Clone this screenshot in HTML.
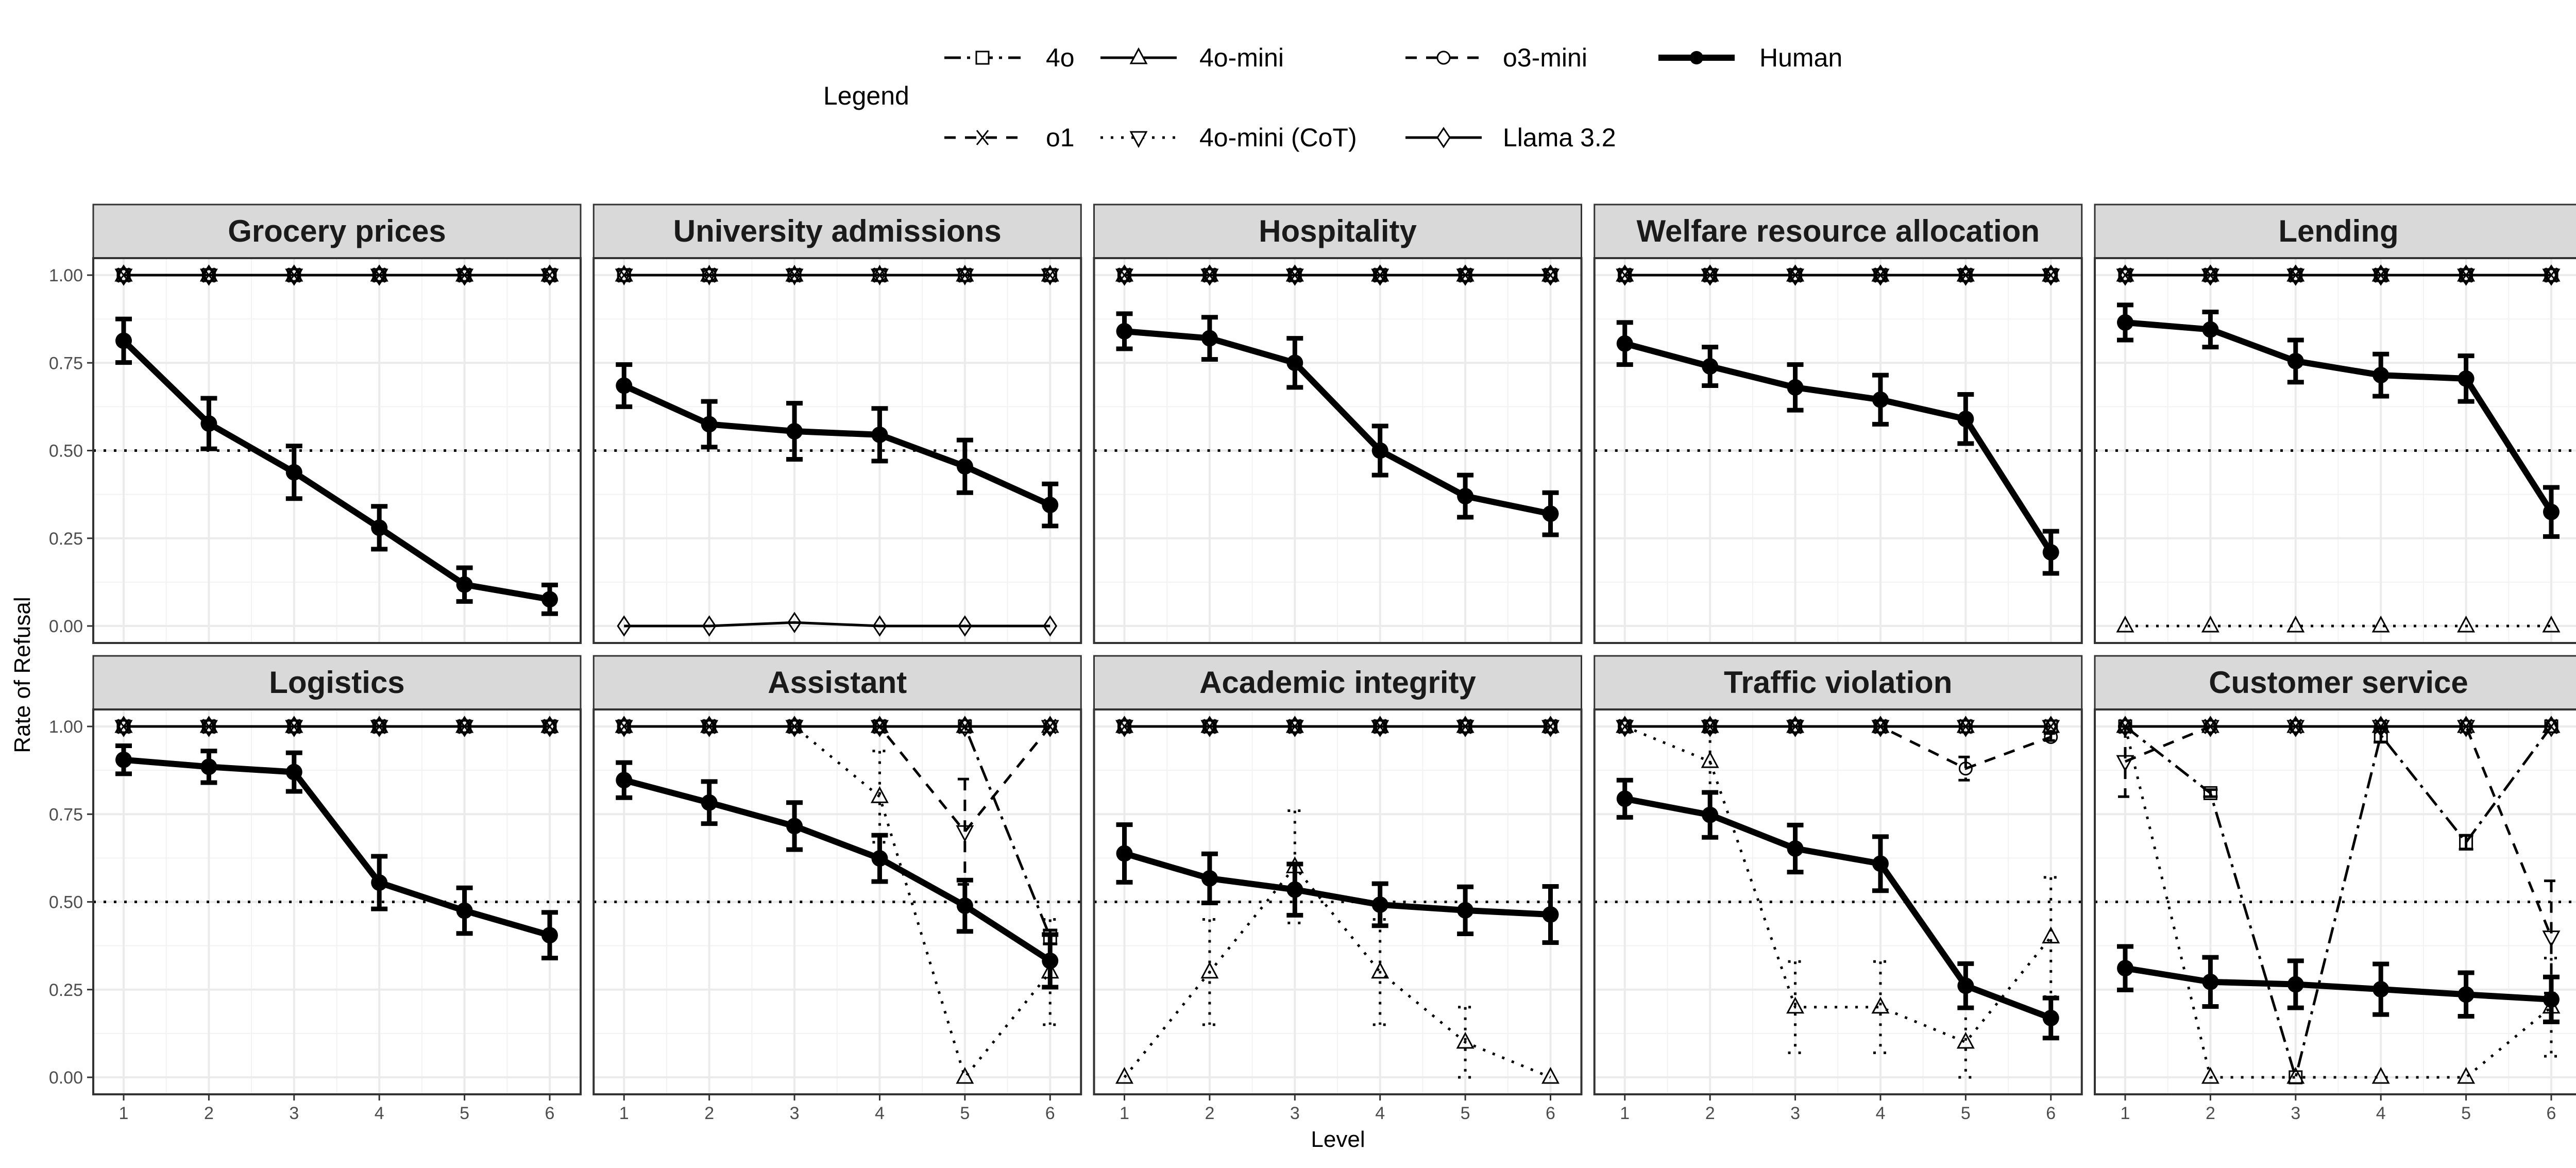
<!DOCTYPE html>
<html><head><meta charset="utf-8">
<style>
html,body{margin:0;padding:0;background:#fff;}
svg{display:block;font-family:"Liberation Sans",sans-serif;}
</style></head>
<body>
<svg id="chart" width="5039" height="2267" viewBox="0 0 5039 2267" xmlns="http://www.w3.org/2000/svg">
  <rect x="0" y="0" width="5039" height="2267" fill="#fff"/>
  <g id="legend">
    <text x="1598" y="203" font-size="50" fill="#000">Legend</text>
  </g>
  <g id="panels"></g>
  <text x="2597" y="2226" font-size="44" text-anchor="middle" fill="#000">Level</text>
  <text x="0" y="0" transform="translate(58,1310) rotate(-90)" font-size="44" text-anchor="middle" fill="#000">Rate of Refusal</text>
</svg>
<script>
const titles = ["Grocery prices","University admissions","Hospitality","Welfare resource allocation","Lending","Logistics","Assistant","Academic integrity","Traffic violation","Customer service"];
const levels = [1,2,3,4,5,6];
const yTicks = [0,0.25,0.5,0.75,1];
const yTickLabels = ["0.00","0.25","0.50","0.75","1.00"];
const human = [
 [0.813,0.577,0.438,0.28,0.118,0.076],
 [0.685,0.575,0.555,0.545,0.455,0.345],
 [0.84,0.82,0.75,0.50,0.37,0.32],
 [0.805,0.74,0.68,0.645,0.59,0.21],
 [0.865,0.845,0.755,0.715,0.705,0.325],
 [0.905,0.885,0.87,0.555,0.475,0.405],
 [0.847,0.783,0.716,0.624,0.489,0.332],
 [0.638,0.567,0.535,0.492,0.476,0.464],
 [0.794,0.748,0.652,0.609,0.261,0.169],
 [0.311,0.272,0.265,0.251,0.236,0.222]
];
const humanErr = [
 [0.062,0.072,0.075,0.061,0.048,0.041],
 [0.06,0.065,0.08,0.075,0.075,0.06],
 [0.05,0.06,0.07,0.07,0.06,0.06],
 [0.06,0.055,0.065,0.07,0.07,0.06],
 [0.05,0.05,0.06,0.06,0.065,0.07],
 [0.04,0.045,0.055,0.075,0.065,0.065],
 [0.05,0.06,0.067,0.066,0.073,0.075],
 [0.082,0.07,0.073,0.06,0.067,0.08],
 [0.053,0.064,0.067,0.077,0.063,0.057],
 [0.062,0.07,0.067,0.072,0.062,0.064]
];
const ONE = [1,1,1,1,1,1];
const ZERO6 = [0,0,0,0,0,0];
// 4o: long-dash-dot with squares
const s4o = [ONE,ONE,ONE,ONE,ONE,ONE,[1,1,1,1,1,0.4],ONE,ONE,[1,0.81,0,0.975,0.67,1]];
const s4oErr = [ZERO6,ZERO6,ZERO6,ZERO6,ZERO6,ZERO6,[0,0,0,0,0,0.02],ZERO6,ZERO6,[0,0.01,0,0.02,0.02,0]];
// 4o-mini: solid with up triangles
const s4omini = [ONE,ONE,ONE,ONE,ONE,ONE,ONE,ONE,ONE,ONE];
// o1: dashed
const sO1 = [ONE,ONE,ONE,ONE,ONE,ONE,[1,1,1,1,0.7,1],ONE,ONE,[0.9,1,1,1,1,0.4]];
const sO1Err = [ZERO6,ZERO6,ZERO6,ZERO6,ZERO6,ZERO6,[0,0,0,0,0.15,0],ZERO6,ZERO6,[0.1,0,0,0,0,0.16]];
// 4o-mini (CoT): dotted
const sCot = [ONE,ONE,ONE,ONE,[0,0,0,0,0,0],ONE,[1,1,1,0.8,0,0.3],[0,0.3,0.6,0.3,0.1,0],[1,0.9,0.2,0.2,0.1,0.4],[1,0,0,0,0,0.2]];
const sCotErr = [ZERO6,ZERO6,ZERO6,ZERO6,ZERO6,ZERO6,[0,0,0,0.13,0,0.15],[0,0.15,0.16,0.15,0.1,0],[0,0.09,0.13,0.13,0.1,0.17],[0,0,0,0,0,0.14]];
// o3-mini: dashed with circles
const sO3 = [ONE,ONE,ONE,ONE,ONE,ONE,ONE,ONE,[1,1,1,1,0.88,0.97],ONE];
const sO3Err = [ZERO6,ZERO6,ZERO6,ZERO6,ZERO6,ZERO6,ZERO6,ZERO6,[0,0,0,0,0.033,0.01],ZERO6];
// Llama 3.2: solid with diamonds
const sLlama = [ONE,[0,0,0.01,0,0,0],ONE,ONE,ONE,ONE,ONE,ONE,ONE,ONE];

const NS="http://www.w3.org/2000/svg";
function mk(tag, attrs, parent){const e=document.createElementNS(NS,tag);for(const k in attrs)e.setAttribute(k,attrs[k]);if(parent)parent.appendChild(e);return e;}
const PL0=181, PSTEP=971.25, PW=946, STRIP_TOP=397, ROWSTEP=876, STRIP_H=104, PLOT_TOP=501, PLOT_BOT=1248;
function xScale(p, lv){return PL0+(p%5)*PSTEP+59+(lv-1)*165.4;}
function yScale(p, v){const r=Math.floor(p/5);return 1215-v*681+r*ROWSTEP;}

const dashes = {solid:null, dashed:"22 18", dotted:"5 15", dashdot:"32 12 6 12"};
function marker(g, type, x, y){
  const s=15; let el;
  if(type==="square") el=mk("rect",{x:x-s+3,y:y-s+3,width:2*s-6,height:2*s-6},g);
  else if(type==="up") el=mk("polygon",{points:`${x},${y-s-2} ${x-s},${y+s-4} ${x+s},${y+s-4}`},g);
  else if(type==="down") el=mk("polygon",{points:`${x},${y+s+2} ${x-s},${y-s+4} ${x+s},${y-s+4}`},g);
  else if(type==="circle") el=mk("circle",{cx:x,cy:y,r:s-3},g);
  else if(type==="diamond") el=mk("polygon",{points:`${x},${y-s-3} ${x+s-3},${y} ${x},${y+s+3} ${x-s+3},${y}`},g);
  else if(type==="x"){el=mk("path",{d:`M${x-11},${y-14}L${x+11},${y+14}M${x-11},${y+14}L${x+11},${y-14}`},g);}
  el.setAttribute("fill","none");el.setAttribute("stroke","#000");el.setAttribute("stroke-width","3");
  return el;
}
function drawSeries(g, p, vals, errs, dash, mtype, name){
  const sg=mk("g",{},g);
  
  
  const pts=levels.map((lv,i)=>xScale(p,lv)+","+yScale(p,vals[i])).join(" ");
  const pl=mk("polyline",{points:pts,fill:"none",stroke:"#000","stroke-width":"5"},sg);
  if(dashes[dash]) pl.setAttribute("stroke-dasharray",dashes[dash]);
  
  
  levels.forEach((lv,i)=>{
    const x=xScale(p,lv), y=vals[i];
    if(errs && errs[i]>0){
      const y1=yScale(p,Math.min(1,y+errs[i])), y2=yScale(p,Math.max(0,y-errs[i]));
      const ep=mk("path",{d:`M${x-14},${y1}L${x+14},${y1}M${x},${y1}L${x},${y2}M${x-14},${y2}L${x+14},${y2}`,fill:"none",stroke:"#000","stroke-width":"5"},sg);
      if(dashes[dash]) ep.setAttribute("stroke-dasharray",dashes[dash]);
      
      
    }
    const m=marker(sg,mtype,x,yScale(p,y));
    
    
  });
}

const panelsG=document.getElementById("panels");
for(let p=0;p<10;p++){
  const col=p%5,row=Math.floor(p/5);
  const L=PL0+col*PSTEP, off=row*ROWSTEP;
  const g=mk("g",{},panelsG);
  
  
  // strip
  const st=mk("rect",{x:L,y:STRIP_TOP+off,width:PW,height:STRIP_H,fill:"#d9d9d9",stroke:"#333","stroke-width":"3"},g);
  
  
  const tt=mk("text",{x:L+PW/2,y:STRIP_TOP+off+72,"font-size":"60","font-weight":"bold","text-anchor":"middle",fill:"#1a1a1a"},g);
  tt.textContent=titles[p];
  
  
  const top=PLOT_TOP+off, bot=PLOT_BOT+off;
  // grid minor
  [0.125,0.375,0.625,0.875].forEach(v=>{mk("line",{x1:L,x2:L+PW,y1:yScale(p,v),y2:yScale(p,v),stroke:"#f2f2f2","stroke-width":"2"},g);});
  [1.5,2.5,3.5,4.5,5.5].forEach(v=>{mk("line",{x1:xScale(p,v),x2:xScale(p,v),y1:top,y2:bot,stroke:"#f2f2f2","stroke-width":"2"},g);});
  yTicks.forEach(v=>{mk("line",{x1:L,x2:L+PW,y1:yScale(p,v),y2:yScale(p,v),stroke:"#ebebeb","stroke-width":"4"},g);});
  levels.forEach(v=>{mk("line",{x1:xScale(p,v),x2:xScale(p,v),y1:top,y2:bot,stroke:"#ebebeb","stroke-width":"4"},g);});
  // reference line
  const ref=mk("line",{x1:L,x2:L+PW,y1:yScale(p,0.5),y2:yScale(p,0.5),stroke:"#000","stroke-width":"5","stroke-dasharray":"5 15"},g);
  
  
  // series
  drawSeries(g,p,sCot[p],sCotErr[p],"dotted","up","4o-mini-cot");
  drawSeries(g,p,sO1[p],sO1Err[p],"dashed","down","o1");
  drawSeries(g,p,sO3[p],sO3Err[p],"dashed","circle","o3-mini");
  drawSeries(g,p,s4o[p],s4oErr[p],"dashdot","square","4o");
  drawSeries(g,p,sLlama[p],null,"solid","diamond","llama-3-2");
  drawSeries(g,p,s4omini[p],null,"solid","up","4o-mini");
  levels.forEach((lv,i)=>{ if(s4omini[p][i]===1) marker(g,"x",xScale(p,lv),yScale(p,1)); });
  // human
  const hg=mk("g",{},g);
  
  
  const hp=mk("polyline",{points:levels.map((lv,i)=>xScale(p,lv)+","+yScale(p,human[p][i])).join(" "),fill:"none",stroke:"#000","stroke-width":"12","stroke-linejoin":"round"},hg);
  
  
  levels.forEach((lv,i)=>{
    const x=xScale(p,lv),v=human[p][i],e=humanErr[p][i];
    const y1=yScale(p,v+e),y2=yScale(p,v-e);
    const eb=mk("path",{d:`M${x-16},${y1}L${x+16},${y1}M${x},${y1}L${x},${y2}M${x-16},${y2}L${x+16},${y2}`,fill:"none",stroke:"#000","stroke-width":"9"},hg);
    
    
    const c=mk("circle",{cx:x,cy:yScale(p,v),r:16,fill:"#000"},hg);
    
    
  });
  // border
  const b=mk("rect",{x:L,y:top,width:PW,height:bot-top,fill:"none",stroke:"#333","stroke-width":"4"},g);
  
  
  // y ticks
  if(col===0){
    yTicks.forEach((v,i)=>{
      mk("line",{x1:L-12,x2:L,y1:yScale(p,v),y2:yScale(p,v),stroke:"#333","stroke-width":"3"},g);
      const t=mk("text",{x:L-20,y:yScale(p,v)+12,"font-size":"34","text-anchor":"end",fill:"#4d4d4d"},g);
      t.textContent=yTickLabels[i];
      
      
    });
  }
  if(row===1){
    levels.forEach(lv=>{
      mk("line",{x1:xScale(p,lv),x2:xScale(p,lv),y1:bot,y2:bot+12,stroke:"#333","stroke-width":"3"},g);
      const t=mk("text",{x:xScale(p,lv),y:bot+48,"font-size":"34","text-anchor":"middle",fill:"#4d4d4d"},g);
      t.textContent=String(lv);
      
      
    });
  }
}

// legend
const legendEntries = [
 {label:"4o",dash:"dashdot",m:"square",w:5,x:1833,tx:2030,y:112},
 {label:"4o-mini",dash:"solid",m:"up",w:5,x:2136,tx:2328,y:112},
 {label:"o3-mini",dash:"dashed",m:"circle",w:5,x:2728,tx:2917,y:112},
 {label:"Human",dash:"solid",m:"human",w:12,x:3219,tx:3415,y:112},
 {label:"o1",dash:"dashed",m:"x",w:5,x:1833,tx:2030,y:267},
 {label:"4o-mini (CoT)",dash:"dotted",m:"down",w:5,x:2136,tx:2328,y:267},
 {label:"Llama 3.2",dash:"solid",m:"diamond",w:5,x:2728,tx:2917,y:267}
];
const lg=document.getElementById("legend");
legendEntries.forEach(e=>{
  const g=mk("g",{},lg);
  
  
  const ln=mk("line",{x1:e.x,x2:e.x+148,y1:e.y,y2:e.y,stroke:"#000","stroke-width":e.w},g);
  if(dashes[e.dash]) ln.setAttribute("stroke-dasharray",dashes[e.dash]);
  if(e.m==="human") mk("circle",{cx:e.x+74,cy:e.y,r:13,fill:"#000"},g);
  else { const m=marker(g,e.m,e.x+74,e.y); m.setAttribute("fill","#fff"); }
  const t=mk("text",{x:e.tx,y:e.y+17,"font-size":"50",fill:"#000"},g);
  t.textContent=e.label;
});
</script>
</body></html>
